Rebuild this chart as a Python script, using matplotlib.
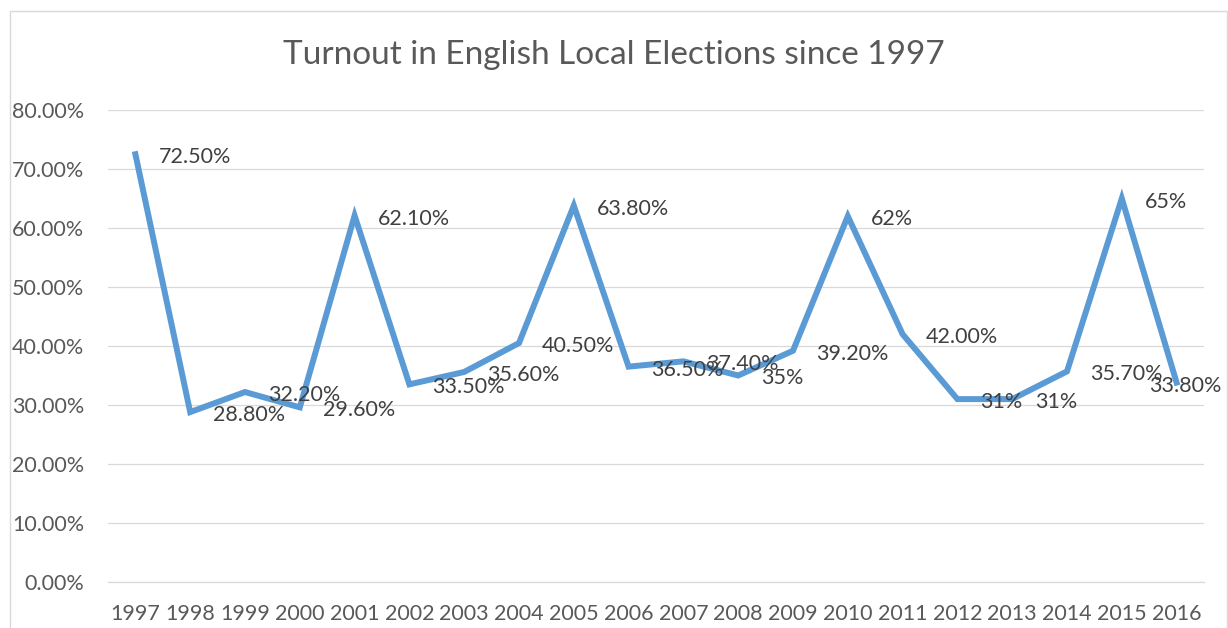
import matplotlib
matplotlib.use("Agg")
from matplotlib import pyplot as plt
from matplotlib.patches import Rectangle
from matplotlib.ticker import FuncFormatter

# turnout data
years = ['1997', '1998', '1999', '2000', '2001', '2002', '2003', '2004', '2005', '2006',
         '2007', '2008', '2009', '2010', '2011', '2012', '2013', '2014', '2015', '2016']
turnout = [72.5, 28.8, 32.2, 29.6, 62.1, 33.5, 35.6, 40.5, 63.8, 36.5,
           37.4, 35.0, 39.2, 62.0, 42.0, 31.0, 31.0, 35.7, 65.0, 33.8]
point_labels = ['72.50%', '28.80%', '32.20%', '29.60%', '62.10%', '33.50%', '35.60%', '40.50%',
                '63.80%', '36.50%', '37.40%', '35%', '39.20%', '62%', '42.00%', '31%', '31%',
                '35.70%', '65%', '33.80%']

plt.rcParams['font.family'] = ['Lato', 'DejaVu Sans']

fig = plt.figure(figsize=(12.28, 6.28), dpi=100)
ax = fig.add_axes([108 / 1228, 1 - 582 / 628, 1096 / 1228, 472 / 628])

x = list(range(len(years)))
vals = [v / 100 for v in turnout]
ax.plot(x, vals, color='#5B9BD5', linewidth=4.3, solid_joinstyle='miter', zorder=3)

# data labels to the right of each point (last one pushed left like Excel does)
for i, (v, lab) in enumerate(zip(vals, point_labels)):
    dx = -27 if i == len(vals) - 1 else 23
    ax.annotate(lab, (i, v), xytext=(dx, -3), textcoords='offset pixels',
                ha='left', va='center', fontsize=15.5, color='#404040', zorder=4)

ax.set_xlim(-0.5, len(years) - 0.5)
ax.set_ylim(0, 0.8)
ax.set_yticks([i / 10 for i in range(9)])
ax.yaxis.set_major_formatter(FuncFormatter(lambda v, p: '%.2f%%' % (v * 100)))
ax.set_xticks(x)
ax.set_xticklabels(years)
ax.grid(axis='y', color='#D9D9D9', linewidth=0.9)
ax.set_axisbelow(True)
for s in ax.spines.values():
    s.set_visible(False)
ax.spines['bottom'].set_visible(True)
ax.spines['bottom'].set_color('#D9D9D9')
ax.spines['bottom'].set_linewidth(0.9)
ax.tick_params(axis='both', length=0, labelsize=15.5, labelcolor='#595959')
ax.tick_params(axis='y', pad=17)
ax.tick_params(axis='x', pad=16)

fig.text(0.5, 1 - 55 / 628, 'Turnout in English Local Elections since 1997',
         ha='center', va='center', fontsize=24, color='#595959')

# chart area border
fig.patches.append(Rectangle((10 / 1228, -0.05), 1217 / 1228, 1.05 - 11 / 628,
                             transform=fig.transFigure, fill=False,
                             edgecolor='#D9D9D9', linewidth=1.0))

fig.savefig('out.png', dpi=100)
